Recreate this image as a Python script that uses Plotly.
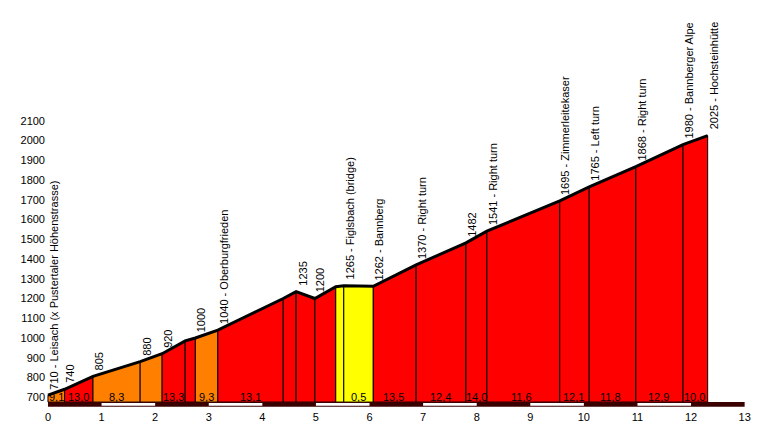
import plotly.graph_objects as go

km = [0, 0.31, 0.84, 1.72, 2.13, 2.56, 2.75, 3.17, 4.39, 4.63, 4.98, 5.37, 5.52, 6.07, 6.87, 7.80, 8.19, 9.55, 10.10, 10.97, 11.85, 12.31]
elev = [710, 740, 805, 880, 920, 985, 1000, 1040, 1200, 1235, 1200, 1260, 1265, 1262, 1370, 1482, 1541, 1695, 1765, 1868, 1980, 2025]
seg_colors = ["#ff8000", "#ff0000", "#ff8000", "#ff8000", "#ff0000", "#ff0000", "#ff8000", "#ff0000", "#ff0000", "#ff0000",
              "#ff0000", "#ffff00", "#ffff00", "#ff0000", "#ff0000", "#ff0000", "#ff0000", "#ff0000", "#ff0000", "#ff0000", "#ff0000"]
point_labels = ["710 - Leisach (x Pustertaler Höhenstrasse)", "740", "805", "880", "920", "", "1000", "1040 - Oberburgfrieden",
                "", "1235", "1200", "", "1265 - Figlsbach (bridge)", "1262 - Bannberg", "1370 - Right turn", "1482",
                "1541 - Right turn", "1695 - Zimmerleitekaser", "1765 - Left turn", "1868 - Right turn",
                "1980 - Bannberger Alpe", "2025 - Hochsteinhütte"]
grad_x = [0.15, 0.57, 1.28, 2.34, 2.96, 3.78, 5.8, 6.44, 7.33, 7.99, 8.83, 9.8, 10.5, 11.4, 12.07]
grad_text = ["9,1", "13,0", "8,3", "13,3", "9,3", "13,1", "0,5", "13,5", "12,4", "14,0", "11,6", "12,1", "11,8", "12,9", "10,0"]
y_ticks = [700, 800, 900, 1000, 1100, 1200, 1300, 1400, 1500, 1600, 1700, 1800, 1900, 2000, 2100]
x_ticks = list(range(0, 14))
title = "Hochsteinhütte"

BASE = 675
fig = go.Figure()
for i in range(len(km) - 1):
    fig.add_trace(go.Scatter(
        x=[km[i], km[i], km[i + 1], km[i + 1], km[i]],
        y=[BASE, elev[i], elev[i + 1], BASE, BASE],
        fill="toself", fillcolor=seg_colors[i], mode="lines",
        line=dict(color="black", width=1), hoverinfo="skip", showlegend=False))
fig.add_trace(go.Scatter(x=km, y=elev, mode="lines", line=dict(color="black", width=3),
                         hoverinfo="skip", showlegend=False))

shapes = [dict(type="rect", xref="x", yref="y", x0=0, x1=13, y0=652, y1=675,
               fillcolor="#3a0000", line=dict(width=0), layer="above")]
for k in range(1, 13, 2):
    shapes.append(dict(type="rect", xref="x", yref="y", x0=k, x1=k + 1, y0=656, y1=671,
                       fillcolor="white", line=dict(width=0), layer="above"))

ann = []
for x, y, t in zip(km, elev, point_labels):
    if t:
        ann.append(dict(x=x, y=y, text=t, textangle=-90, showarrow=False, xanchor="left", yanchor="bottom",
                        xshift=-2, yshift=4, font=dict(size=11, color="black")))
for x, t in zip(grad_x, grad_text):
    ann.append(dict(x=x, y=700, text=t, showarrow=False, yanchor="middle", font=dict(size=11, color="black")))
ann.append(dict(xref="x", yref="y", x=(190 - 48) / 53.6, y=700 + (397 - 30) / 0.1971, text=title,
                showarrow=False, font=dict(size=11)))

fig.update_layout(
    width=780, height=434, margin=dict(l=38, r=38, t=103, b=33),
    paper_bgcolor="white", plot_bgcolor="white",
    font=dict(family="Liberation Sans, Arial", size=11, color="black"),
    shapes=shapes, annotations=ann,
    xaxis=dict(range=[-0.037, 13.1], tickvals=x_ticks, showgrid=False, zeroline=False, showline=False, ticks=""),
    yaxis=dict(range=[640, 2150], tickvals=y_ticks, showgrid=False, zeroline=False, showline=False, ticks=""),
)
fig.write_html("out.html")
